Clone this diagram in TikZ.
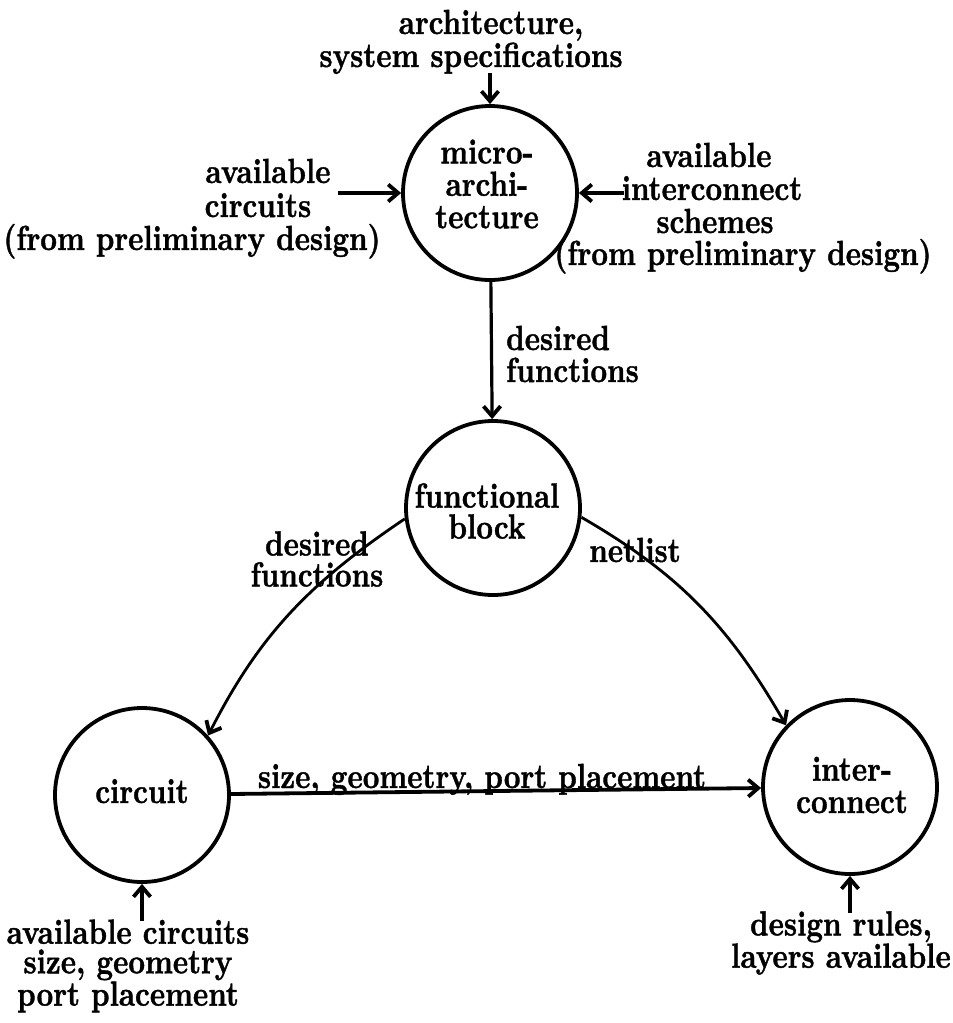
\documentclass[tikz,border=0pt]{standalone}
\usepackage{fontspec}
\setmainfont{lmroman10-regular.otf}[BoldFont=lmroman10-bold.otf, BoldFeatures={FakeBold=1.2}]
\usetikzlibrary{arrows.meta}
\begin{document}
\begin{tikzpicture}[x=1pt,y=1pt,
  txt/.style={font=\fontsize{29}{24.6}\selectfont\bfseries,
              inner sep=0pt, align=center, yscale=1.2, transform shape},
  line/.style={txt, anchor=base},
  stage/.style={circle, draw, line width=3.8pt, minimum size=174pt, inner sep=0pt},
  flow/.style={line width=3.2pt, -{Straight Barb[length=10pt,width=17pt,line width=3.8pt]}},
  bend flow/.style={flow, line width=2.8pt},
  heavy flow/.style={flow, line width=3.8pt},
]
\useasboundingbox (0,0) rectangle (953,-1023);

% the four design stages
\node[stage] (micro) at (490,-193) {};
\node[stage] (func)  at (493,-508) {};
\node[stage] (circ)  at (142,-795) {};
\node[stage] (inter) at (850,-787) {};

\node[txt, font=\fontsize{29}{27}\selectfont\bfseries] (microtxt) at (487,-184) {micro-\\archi-\\tecture};
\node[txt, font=\fontsize{29}{25.8}\selectfont\bfseries] (functxt) at (487,-511) {functional\\block};
\node[line] (circtxt) at (142,-803) {circuit};
\node[txt, font=\fontsize{29}{27}\selectfont\bfseries] (intertxt) at (852,-785) {inter-\\connect};

% inputs to the micro-architecture
\node[line] (arch1) at (491,-34) {architecture,};
\node[line] (arch2) at (471,-67) {system specifications};
\coordinate (archin) at (490,-73);
\draw[flow] (archin) -- (micro);

\node[line] (lc1) at (268,-183) {available};
\node[line] (lc2) at (258,-217) {circuits};
\node[line] (lc3) at (192,-250) {(from preliminary design)};
\coordinate (lcin) at (338,-193);
\draw[heavy flow] (lcin) -- (micro);

\node[line] (ri1) at (709,-167) {available};
\node[line] (ri2) at (712,-200) {interconnect};
\node[line] (ri3) at (715,-233) {schemes};
\node[line] (ri4) at (743,-265) {(from preliminary design)};
\coordinate (riin) at (624,-193);
\draw[flow] (riin) -- (micro);

% flow between the stages
\draw[flow] (micro) -- (func);
\node[line, anchor=base west] (dfa) at (506,-350) {desired};
\node[line, anchor=base west] (dfb) at (506,-382) {functions};

\draw[bend flow] (func.187) to[out=214, in=63] (circ.42);
\node[txt, font=\fontsize{29}{25.8}\selectfont\bfseries] (dfc) at (317,-559) {desired\\functions};

\draw[bend flow] (func.-6) to[out=-30, in=120] (inter.136);
\node[line] (net) at (635,-562) {netlist};

\draw[heavy flow] (circ) -- (inter);
\node[line] (sgp) at (482,-788) {size, geometry, port placement};

% inputs from below
\node[txt] (cbot) at (128,-966) {available circuits\\size, geometry\\port placement};
\coordinate (cin) at (142,-921);
\draw[flow] (cin) -- (circ);

\node[txt, font=\fontsize{29}{25}\selectfont\bfseries] (ibot) at (841,-943) {design rules,\\layers available};
\coordinate (iin) at (850,-913);
\draw[flow] (iin) -- (inter);
\end{tikzpicture}
\end{document}
